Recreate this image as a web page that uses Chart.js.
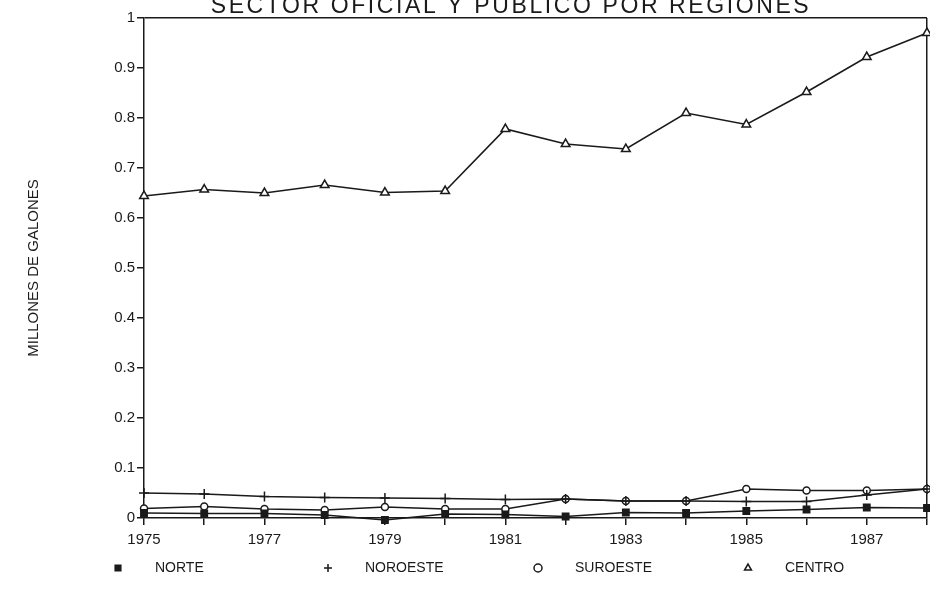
<!DOCTYPE html>
<html>
<head>
<meta charset="utf-8">
<title>Sector oficial y publico por regiones</title>
<script src="https://cdn.jsdelivr.net/npm/chart.js@4.4.1/dist/chart.umd.min.js"></script>
<style>
  body { margin: 0; background: #fff; }
  canvas { display: block; }
</style>
</head>
<body>
<canvas id="grafico" width="930" height="610"></canvas>
<script>
// datos (millones de galones)
const years = ['1975','1976','1977','1978','1979','1980','1981','1982','1983','1984','1985','1986','1987','1988'];
const yearLabels = ['1975','1977','1979','1981','1983','1985','1987'];

const norte    = [0.010, 0.009, 0.009, 0.006, -0.004, 0.008, 0.007, 0.003, 0.011, 0.010, 0.014, 0.017, 0.021, 0.020];
const noroeste = [0.050, 0.048, 0.043, 0.041, 0.040, 0.039, 0.037, 0.038, 0.034, 0.034, 0.033, 0.033, 0.046, 0.058];
const suroeste = [0.019, 0.023, 0.018, 0.016, 0.022, 0.018, 0.018, 0.038, 0.034, 0.034, 0.058, 0.055, 0.055, 0.058];
const centro   = [0.644, 0.657, 0.650, 0.666, 0.651, 0.654, 0.778, 0.748, 0.738, 0.810, 0.787, 0.852, 0.922, 0.970];

const ink = '#1a1a1a';
Chart.defaults.font.family = "'Liberation Sans', Arial, sans-serif";
Chart.defaults.color = ink;

function serie(label, data, style, radius, fill) {
	return {
		label: label,
		data: data,
		borderColor: ink,
		borderWidth: 1.6,
		pointStyle: style,
		pointRadius: radius,
		pointBorderWidth: 1.5,
		pointBorderColor: ink,
		pointBackgroundColor: fill,
		tension: 0,
		clip: false
	};
}

// titulo (cortado arriba como en el original) y leyenda abajo
const decor = {
	id: 'decor',
	afterDraw: function(chart) {
		const ctx = chart.ctx;
		ctx.save();
		ctx.fillStyle = ink;
		ctx.font = "23px 'Liberation Sans', Arial, sans-serif";
		ctx.letterSpacing = '2.6px';
		ctx.textAlign = 'center';
		ctx.textBaseline = 'alphabetic';
		ctx.fillText('SECTOR OFICIAL Y PUBLICO POR REGIONES', 511, 13);

		ctx.letterSpacing = '0px';
		ctx.font = "14px 'Liberation Sans', Arial, sans-serif";
		ctx.textAlign = 'left';
		ctx.textBaseline = 'middle';
		chart.data.datasets.forEach((ds, i) => {
			const x = 118 + i * 210, y = 568;
			ctx.strokeStyle = ink;
			ctx.fillStyle = ds.pointBackgroundColor;
			ctx.lineWidth = 1.5;
			Chart.helpers.drawPoint(ctx, {pointStyle: ds.pointStyle, radius: 4, borderWidth: 1.5}, x, y);
			ctx.fillStyle = ink;
			ctx.fillText(ds.label, x + 37, y);
		});
		ctx.restore();
	}
};

new Chart(document.getElementById('grafico'), {
	type: 'line',
	data: {
		labels: years,
		datasets: [
			serie('NORTE', norte, 'rect', 4.5, ink),
			serie('NOROESTE', noroeste, 'cross', 5, ink),
			serie('SUROESTE', suroeste, 'circle', 3.5, '#fff'),
			serie('CENTRO', centro, 'triangle', 5, '#fff')
		]
	},
	options: {
		responsive: false,
		animation: false,
		devicePixelRatio: 1,
		layout: {
			autoPadding: false,
			padding: { top: 18, right: 3, left: 0, bottom: 0 }
		},
		plugins: {
			legend: { display: false },
			tooltip: { enabled: false }
		},
		scales: {
			x: {
				offset: false,
				afterFit: function(scale) {
					scale.height = 92;
					scale.paddingRight = 0;
				},
				grid: {
					drawOnChartArea: true,
					color: ctx => ctx.index === years.length - 1 ? ink : 'rgba(0,0,0,0)',
					lineWidth: 1.5,
					tickColor: ink,
					tickLength: 7
				},
				border: { display: true, color: ink, width: 1.5 },
				ticks: {
					autoSkip: false,
					maxRotation: 0,
					padding: 6,
					font: { size: 15 },
					callback: function(value) {
						const y = this.getLabelForValue(value);
						return yearLabels.includes(y) ? y : '';
					}
				}
			},
			y: {
				min: 0,
				max: 1,
				afterFit: function(scale) { scale.width = 144; },
				grid: {
					drawOnChartArea: true,
					color: ctx => ctx.tick && ctx.tick.value === 1 ? ink : 'rgba(0,0,0,0)',
					lineWidth: 1.5,
					tickColor: ink,
					tickLength: 7
				},
				border: { display: true, color: ink, width: 1.5 },
				ticks: {
					stepSize: 0.1,
					padding: 2,
					font: { size: 15 },
					callback: value => String(Number(value.toFixed(1)))
				},
				title: {
					display: true,
					text: 'MILLONES DE GALONES',
					font: { size: 15 },
					padding: { top: 25, bottom: 0 }
				}
			}
		}
	},
	plugins: [decor]
});
</script>
</body>
</html>
